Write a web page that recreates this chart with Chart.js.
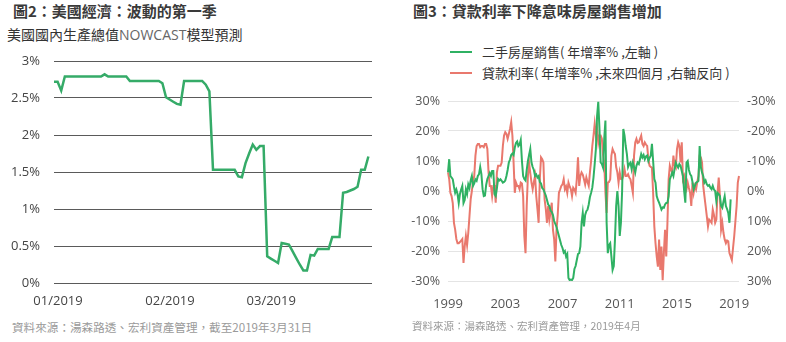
<!DOCTYPE html>
<html>
<head>
<meta charset="utf-8">
<script src="https://cdn.jsdelivr.net/npm/chart.js@4.4.1/dist/chart.umd.min.js"></script>
<style>
  body { margin: 0; width: 786px; height: 342px; position: relative; overflow: hidden; background: #fff;
         font-family: "Noto Sans CJK TC", "Noto Sans", sans-serif; color: #333; }
  canvas { position: absolute; }
  .t { position: absolute; white-space: nowrap; line-height: 1; }
  .title { font-size: 15px; font-weight: bold; color: #3a3a3a; }
  .sub { font-size: 14px; color: #333; }
  .sub .latin { color: #666; font-family: "Open Sans", sans-serif; }
  .note { font-size: 11.6px; color: #9a9a9a; }
  .legend-item { position: absolute; left: 450px; font-size: 13px; line-height: 1; white-space: nowrap; color: #333; }
  .legend-item i { position: absolute; left: 0; width: 22px; height: 2px; }
  .legend-item span { position: absolute; left: 32px; }
</style>
</head>
<body>

<div class="t title" style="left:13px;top:3px">圖2：美國經濟：波動的第一季</div>
<div class="t sub" style="left:7px;top:27px">美國國內生產總值<span class="latin">NOWCAST</span>模型預測</div>
<canvas id="gdpChart" width="390" height="276" style="left:0;top:39px"></canvas>
<div class="t note" style="left:12px;top:322px">資料來源：湯森路透、宏利資產管理，截至2019年3月31日</div>

<div class="t title" style="left:413px;top:3px">圖3：貸款利率下降意味房屋銷售增加</div>
<div id="housingLegend"></div>
<canvas id="housingChart" width="386" height="261" style="left:400px;top:81px"></canvas>
<div class="t note" style="left:412px;top:321px;font-size:10.5px">資料來源：湯森路透、宏利資產管理，2019年4月</div>

<script>
// ---- Chart 2: daily GDP nowcast, 1 Jan 2019 onwards (%)
const nowcastValues = [
    2.72, 2.72, 2.60, 2.79, 2.79, 2.79, 2.79, 2.79, 2.79, 2.79,
    2.79, 2.79, 2.79, 2.79, 2.82, 2.79, 2.79, 2.79, 2.79, 2.79,
    2.79, 2.73, 2.73, 2.73, 2.73, 2.73, 2.73, 2.73, 2.73, 2.73,
    2.70, 2.51, 2.48, 2.45, 2.42, 2.41, 2.73, 2.73, 2.73, 2.73,
    2.73, 2.73, 2.68, 2.59, 1.53, 1.53, 1.53, 1.53, 1.53, 1.53,
    1.53, 1.44, 1.43, 1.62, 1.75, 1.87, 1.80, 1.85, 1.85, 0.36,
    0.33, 0.30, 0.27, 0.54, 0.53, 0.52, 0.43, 0.34, 0.25, 0.17,
    0.17, 0.38, 0.37, 0.46, 0.46, 0.46, 0.46, 0.62, 0.62, 0.62,
    1.22, 1.23, 1.25, 1.27, 1.30, 1.53, 1.53, 1.71
];
const nowcastTickLabels = ['01/2019', '02/2019', '03/2019'];
const nowcastTickDays = [0, 31, 59];

// ---- Chart 3: monthly, Jan 1999 onwards (YoY %)
const homeSalesLabel = '二手房屋銷售( 年增率% ,左軸 )';
const mortgageLabel = '貸款利率( 年增率% ,未來四個月 ,右軸反向 )';
const homeSales = [
    6.2, 10.6, 5, 4.5, 3.9, 1.5, -0.6, 0.5, -1, -4,
    -1, 0.5, 1.7, -4, -3, 0.5, -1, 2.2, 1, 3.5,
    5, 1.7, 2.5, 3.9, 3.4, 5, 5.6, 8, 5.6, 0.6,
    -1.7, -1.5, 2, 4, 5, 6, 5, 6.7, 6.7, -1,
    -1.7, 1, 4, 3.5, 3.9, 3.4, 2.8, 3, 3.5, 5,
    7, 9.5, 10.5, 12, 12.5, 12, 14.5, 16, 16.5, 15,
    15.5, 17, 10, 5, 4, 3.5, 7, 10, 12, 14,
    9.5, 8, 7, 5, 5.5, 4.5, 5, 3, 2.5, 1,
    0.5, -0.5, -1.5, -3, -4.5, -5, -6.5, -7, -8, -10,
    -11, -12, -13.5, -15, -16.5, -18, -19, -20.5, -20, -21.8,
    -21, -29, -29.7, -29.5, -29.7, -29, -26, -25, -23, -21,
    -20.7, -18.5, -10.6, -7.3, -11.8, -8, -6.7, -6.2, -4.5, -2,
    -0.6, 1.1, 4.5, 9, 14, 25, 29.7, 20.7, 9.5, 9,
    7.8, 17.4, 23.5, -10.6, -20.7, -18, -17.4, -21.8, -26.3, -25,
    -16.2, -5, 0, -5, -15, -10.6, 0, 20.7, 18.5, 15,
    12.3, 8, 9, 9.5, 7.3, 9.5, 8, 6.2, 8.4, 9.5,
    9, 10.6, 12.3, 11.2, 12, 10.6, 11.5, 11.8, 10, 11,
    11.8, 15.7, 10, 4, 2.8, -1.7, -3, -3.9, -5, -6.2,
    -5.5, -5.6, -4.5, -4, -3.9, -1.7, 3.9, 5, 6.2, 5,
    7.3, 9.5, 8.5, 7.8, 9, 8.4, 6.7, 5, 0, -3.9,
    9.5, 10, 7, 5.6, 5, 3, 0.6, 1.7, 2.8, 3,
    3.4, 15, 8, 6.2, 5, 2.8, 3.5, 2.2, 1.7, 2,
    1.1, 0.6, 1.7, 0.5, 0, -3.4, -0.6, -1, -1.7, -5,
    -5.6, -3.5, -1.7, -5, -6, -7.3, -10.6, -2.8
];
// mortgage rate, shifted four months ahead (plotted on the reversed right axis)
const mortgageRates = [
    -6.2, -4, 0.6, 1.7, 4, 10.6, 12.9, 16, 17.4, 17.4,
    17, 16.5, 16, 24, 18.5, 15, 18, 14, 8.4, 2.8,
    0, -3.4, -5, -11.8, -15, -15.7, -15.7, -14.6, -15, -15,
    -14.6, -15.7, -15.7, -14, -6.2, -1.7, -1.7, 1.7, -1.7, -1.7,
    3.9, -6.2, -8.4, -8.4, -8.4, -9.5, -15, -18.5, -19.6, -19,
    -17.4, -19, -20.7, -23, -18.5, -9.5, 0.6, -2.8, -1.7, -1.7,
    -0.6, -2.8, -2.5, 1.7, 15, 20.7, 5, -5, -9.5, -6,
    -2.8, -0.6, -3, -5, 1.7, 6, 10.6, -4, -11.2, -10.6,
    -9.5, 2.8, 6, 10.6, 5, 9.5, 7, 3.9, 12.9, 16,
    23.5, 12.9, 8, 0.6, -0.5, -1.7, -2.2, -3.9, -0.6, -1.5,
    0.6, -2.8, -1.5, -0.6, 1.7, -1.1, -0.5, 0.6, -3.9, -11.2,
    -1.7, -5, -6.2, -5.5, -3.9, -2.2, -4.5, -3, -1.7, -6.2,
    -10, -15, -18.5, -22.4, -18.5, -20.7, -16.2, -18.5, -18.5, -17.4,
    -12, -9.5, 0.6, 7.3, -2.8, -3, -3.9, -11.8, -14, -13,
    -12.3, -8, -6.2, -2.8, -6.2, -4, -3.9, -5, -7.3, -5,
    -5, -5.6, -4.5, -3.9, -1.7, 0.6, -11.8, -16.2, -17.4, -16,
    -16.2, -17.4, -18.5, -15.7, -15, -16.2, -15.5, -15, -10.6, -8.4,
    -8, -7.8, 0.6, 11.8, 17.4, 21.8, 25.2, 16.2, 26.3, 18.5,
    29.7, 20.7, 12.9, 21.8, 10.6, -3.9, -8.4, -7, -6.2, -11.8,
    -8.5, -7.8, -14, -16.2, -15, -9.5, -16.2, -3.9, -5, -2,
    -0.6, -2.8, -1, 0.6, 5, -2.8, 0.6, -1.7, -0.6, -3,
    -5, -11.5, -11.2, -9.5, -1.7, 1.7, 5, 8.4, 11.8, 9.5,
    10, 10.6, 6.2, 8, 10.6, 9.5, 0.6, -4.5, 1.7, 12.9,
    10.6, 14, 16.2, 17.4, 16.5, 16.8, 20.7, 21.8, 23, 19,
    15, 10, 5, -2.8, -5
];
const yearTickLabels = ['1999', '2003', '2007', '2011', '2015', '2019'];

const GREEN = '#2fb163';
const RED = '#e9786d';

Chart.defaults.font.family = "'Open Sans', sans-serif";
Chart.defaults.animation = false;

// Day-by-day category labels for chart 2 (1 Jan – 30 Mar)
const dayLabels = [];
for (let d = new Date(2019, 0, 1); d <= new Date(2019, 2, 30); d.setDate(d.getDate() + 1)) {
    dayLabels.push((d.getMonth() + 1) + '/' + d.getDate());
}

// Month labels for chart 3 (Jan 1999 – May 2019)
const monthLabels = [];
for (let y = 1999; y <= 2019; y++) {
    for (let m = 1; m <= 12; m++) {
        if (y === 2019 && m > 5) break;
        monthLabels.push(y + '-' + String(m).padStart(2, '0'));
    }
}

new Chart(document.getElementById('gdpChart'), {
    type: 'line',
    data: {
        labels: dayLabels,
        datasets: [{
            data: nowcastValues,
            borderColor: '#35ab68',
            borderWidth: 2.5,
            pointRadius: 0,
            tension: 0
        }]
    },
    options: {
        responsive: false,
        // top padding has to beat the y tick padding + half a label height
        layout: { padding: { left: 0, right: 18, top: 22, bottom: 0 } },
        plugins: { legend: { display: false }, tooltip: { enabled: false } },
        scales: {
            x: {
                grid: { display: false },
                border: { display: false },
                ticks: {
                    autoSkip: false,
                    maxRotation: 0,
                    padding: 2,
                    labelOffset: 4,
                    color: '#444',
                    font: { size: 13 },
                    callback: (val, i) => {
                        const k = nowcastTickDays.indexOf(i);
                        return k >= 0 ? nowcastTickLabels[k] : '';
                    }
                },
                afterFit: scale => { scale.height = 32; }
            },
            y: {
                min: 0,
                max: 3,
                grid: { color: '#5a5a5a', lineWidth: 1, drawTicks: false },
                border: { display: false },
                ticks: {
                    stepSize: 0.5,
                    padding: 14,
                    color: '#444',
                    font: { size: 13 },
                    callback: v => v + '%'
                },
                afterFit: scale => { scale.width = 54; }
            }
        }
    }
});

const housingChart = new Chart(document.getElementById('housingChart'), {
    type: 'line',
    data: {
        labels: monthLabels,
        datasets: [{
            label: homeSalesLabel,
            data: homeSales,
            borderColor: GREEN,
            backgroundColor: GREEN,
            borderWidth: 2,
            pointRadius: 0,
            yAxisID: 'y'
        }, {
            label: mortgageLabel,
            data: mortgageRates,
            borderColor: RED,
            backgroundColor: RED,
            borderWidth: 2,
            pointRadius: 0,
            yAxisID: 'y1'
        }]
    },
    options: {
        responsive: false,
        layout: { padding: { left: 0, right: 7, top: 20, bottom: 31 } },
        plugins: { legend: { display: false }, tooltip: { enabled: false } },
        scales: {
            x: {
                grid: { display: false },
                border: { display: false },
                ticks: {
                    autoSkip: false,
                    maxRotation: 0,
                    padding: 7,
                    color: '#555',
                    font: { size: 13 },
                    callback: (val, i) => {
                        const [year, month] = monthLabels[i].split('-');
                        return month === '01' && yearTickLabels.includes(year) ? year : '';
                    }
                },
                afterFit: scale => { scale.height = 30; }
            },
            y: {
                position: 'left',
                min: -30,
                max: 30,
                grid: { color: '#e4e4e4', drawTicks: false },
                border: { display: false },
                ticks: { stepSize: 10, padding: 8, color: '#555', font: { size: 12.5 }, callback: v => v + '%' },
                afterFit: scale => { scale.width = 48; }
            },
            y1: {
                position: 'right',
                reverse: true,
                min: -30,
                max: 30,
                grid: { drawOnChartArea: false, drawTicks: false },
                border: { display: false },
                ticks: { stepSize: 10, padding: 8, color: '#555', font: { size: 12.5 }, callback: v => v + '%' },
                afterFit: scale => { scale.width = 40; }
            }
        }
    }
});

// HTML legend built from the chart's datasets
const legendBox = document.getElementById('housingLegend');
housingChart.data.datasets.forEach((ds, i) => {
    const item = document.createElement('div');
    item.className = 'legend-item';
    item.style.top = (45 + i * 21) + 'px';
    item.innerHTML = '<i style="top:6px;background:' + ds.borderColor + '"></i><span>' + ds.label + '</span>';
    legendBox.appendChild(item);
});
</script>
</body>
</html>
